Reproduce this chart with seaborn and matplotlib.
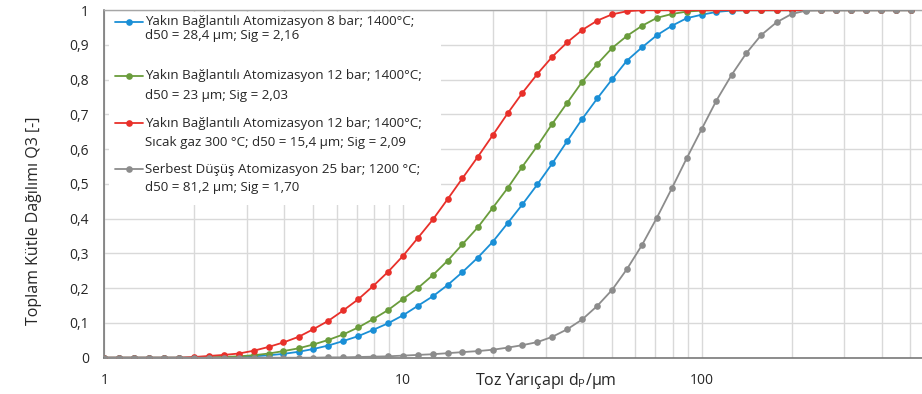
import matplotlib
matplotlib.use("Agg")
import matplotlib.pyplot as plt
import numpy as np
import pandas as pd
import seaborn as sns
from matplotlib.ticker import FixedLocator, FixedFormatter, NullFormatter
from matplotlib.lines import Line2D
from matplotlib.patches import Rectangle

# particle size grid (µm), 20 points per decade
sizes = [1, 1.12, 1.26, 1.41, 1.58, 1.78, 2.0, 2.24, 2.51, 2.82,
         3.16, 3.55, 3.98, 4.47, 5.01, 5.62, 6.31, 7.08, 7.94, 8.91,
         10, 11.2, 12.6, 14.1, 15.8, 17.8, 20.0, 22.4, 25.1, 28.2,
         31.6, 35.5, 39.8, 44.7, 50.1, 56.2, 63.1, 70.8, 79.4, 89.1,
         100, 112, 126, 141, 158, 178, 200, 224, 251, 282,
         316, 355, 398, 447, 501]

q3_8bar = [0, 0, 0, 0, 0, 0, 0, 0, 0.001, 0.002,
           0.004, 0.007, 0.011, 0.017, 0.025, 0.035, 0.048, 0.062, 0.080, 0.099,
           0.122, 0.149, 0.177, 0.209, 0.246, 0.288, 0.334, 0.387, 0.441, 0.499,
           0.559, 0.624, 0.687, 0.746, 0.801, 0.855, 0.893, 0.928, 0.955, 0.977,
           0.987, 0.995, 0.999, 1, 1, 1, 1, 1, 1, 1,
           1, 1, 1, 1, 1]

q3_12bar = [0, 0, 0, 0, 0, 0, 0, 0.001, 0.002, 0.004,
            0.007, 0.012, 0.019, 0.027, 0.038, 0.051, 0.067, 0.087, 0.111, 0.137,
            0.169, 0.200, 0.238, 0.279, 0.326, 0.375, 0.432, 0.488, 0.550, 0.610,
            0.673, 0.734, 0.794, 0.845, 0.891, 0.926, 0.955, 0.978, 0.989, 0.996,
            0.999, 1, 1, 1, 1, 1, 1, 1, 1, 1,
            1, 1, 1, 1, 1]

q3_12bar_hot = [0, 0, 0, 0, 0, 0, 0.002, 0.005, 0.008, 0.012,
                0.020, 0.031, 0.044, 0.060, 0.082, 0.106, 0.136, 0.168, 0.206, 0.247,
                0.293, 0.344, 0.398, 0.456, 0.516, 0.578, 0.641, 0.703, 0.762, 0.817,
                0.866, 0.908, 0.943, 0.970, 0.988, 0.997, 1, 1, 1, 1,
                1, 1, 1, 1, 1, 1, 1, 1, 1, 1,
                1, 1, 1, 1, 1]

q3_freefall = [0, 0, 0, 0, 0, 0, 0, 0, 0, 0,
               0, 0, 0, 0, 0, 0.001, 0.001, 0.002, 0.003, 0.004,
               0.006, 0.008, 0.010, 0.013, 0.016, 0.019, 0.023, 0.029, 0.036, 0.045,
               0.060, 0.082, 0.110, 0.149, 0.195, 0.255, 0.324, 0.403, 0.487, 0.574,
               0.658, 0.740, 0.814, 0.876, 0.928, 0.965, 0.989, 0.999, 1, 1,
               1, 1, 1, 1, 1]

series_keys = ["8bar", "12bar", "12bar_hot", "freefall"]
series_colors = ["#1a8fd6", "#6a9c3c", "#e8302a", "#8c8c8c"]
legend_texts = [
    ("Yakın Bağlantılı Atomizasyon 8 bar; 1400°C;", "d50 = 28,4 µm; Sig = 2,16"),
    ("Yakın Bağlantılı Atomizasyon 12 bar; 1400°C;", "d50 = 23 µm; Sig = 2,03"),
    ("Yakın Bağlantılı Atomizasyon 12 bar; 1400°C;", "Sıcak gaz 300 °C; d50 = 15,4 µm; Sig = 2,09"),
    ("Serbest Düşüş Atomizasyon 25 bar; 1200 °C;", "d50 = 81,2 µm; Sig = 1,70"),
]
x_tick_values = [1, 10, 100]
x_tick_labels = ["1", "10", "100"]
y_tick_values = [0, 0.1, 0.2, 0.3, 0.4, 0.5, 0.6, 0.7, 0.8, 0.9, 1.0]
y_tick_labels = ["0", "0,1", "0,2", "0,3", "0,4", "0,5", "0,6", "0,7", "0,8", "0,9", "1"]
x_label = "Toz Yarıçapı d$_{P}$/µm"
y_label = "Toplam Kütle Dağılımı Q3 [-]"

sns.set_style("white")
plt.rcParams["font.family"] = ["Open Sans", "DejaVu Sans"]
plt.rcParams["mathtext.default"] = "regular"

W, H = 922, 394
fig = plt.figure(figsize=(W / 100, H / 100), dpi=100)
x0, x1000 = 104.3, 1000.4
y0, y1 = 357.7, 10.2
ax = fig.add_axes([x0 / W, 1 - y0 / H, (x1000 - x0) / W, (y0 - y1) / H])
ax.set_xscale("log")

df = pd.DataFrame({
    "d": sizes * 4,
    "q3": q3_8bar + q3_12bar + q3_12bar_hot + q3_freefall,
    "series": sum([[k] * len(sizes) for k in series_keys], []),
})
sns.lineplot(data=df, x="d", y="q3", hue="series", hue_order=series_keys,
             palette=series_colors, marker="o", markersize=4.8,
             markeredgewidth=0, linewidth=1.3, legend=False, ax=ax,
             sort=False, zorder=3)

ax.set_xlim(1, 1000)
ax.set_ylim(0, 1)
ax.xaxis.set_major_locator(FixedLocator(x_tick_values))
ax.xaxis.set_major_formatter(FixedFormatter(x_tick_labels))
minor = [m * 10 ** e for e in range(0, 3) for m in range(2, 10)]
ax.xaxis.set_minor_locator(FixedLocator(minor))
ax.xaxis.set_minor_formatter(NullFormatter())
ax.yaxis.set_major_locator(FixedLocator(y_tick_values))
ax.yaxis.set_major_formatter(FixedFormatter(y_tick_labels))

ax.set_axisbelow(True)
ax.xaxis.grid(True, which="both", color="#d9d9d9", linewidth=1.0)
ax.yaxis.grid(True, which="major", color="#d9d9d9", linewidth=1.0)

for s in ["left", "bottom"]:
    ax.spines[s].set_color("#6e6e6e")
    ax.spines[s].set_linewidth(1.1)
ax.spines["top"].set_color("#a6a6a6")
ax.spines["top"].set_linewidth(1.0)
ax.spines["right"].set_visible(False)

ax.tick_params(axis="x", which="both", direction="out", length=3, width=0.8,
               color="#6e6e6e", labelsize=10, labelcolor="#262626", pad=8)
ax.tick_params(axis="y", which="major", direction="in", length=4, width=0.8,
               color="#6e6e6e", labelsize=10, labelcolor="#262626", pad=11)

ax.set_xlabel(x_label, fontsize=11.5, color="#262626")
ax.set_ylabel(y_label, fontsize=11.5, color="#262626")
ax.xaxis.set_label_coords((545.8 - x0) / (x1000 - x0), (y0 - 371) / (y0 - y1))
ax.yaxis.set_label_coords((41.7 - x0) / (x1000 - x0), (y0 - 220.8) / (y0 - y1))

# legend block (white background, handles aligned with first text line)
def ax_x(px):
    return (px - x0) / (x1000 - x0)

def ax_y(py):
    return (y0 - py) / (y0 - y1)

ax.add_patch(Rectangle((ax_x(109), ax_y(205)), ax_x(441) - ax_x(109), ax_y(11.5) - ax_y(205),
                       transform=ax.transAxes, facecolor="white", edgecolor="none", zorder=1))
line_y = [(22, 36), (76, 96), (123, 142.5), (169, 187)]
for (t1, t2), (py1, py2), col in zip(legend_texts, line_y, series_colors):
    ax.add_line(Line2D([ax_x(115), ax_x(143)], [ax_y(py1), ax_y(py1)], transform=ax.transAxes,
                       color=col, linewidth=1.3, zorder=4))
    ax.add_line(Line2D([ax_x(128.5)], [ax_y(py1)], transform=ax.transAxes, color=col,
                       marker="o", markersize=4.8, markeredgewidth=0, zorder=4))
    ax.text(ax_x(145), ax_y(py1), t1, transform=ax.transAxes, va="center", ha="left",
            fontsize=9.6, color="#262626", zorder=4)
    ax.text(ax_x(145), ax_y(py2), t2, transform=ax.transAxes, va="center", ha="left",
            fontsize=9.6, color="#262626", zorder=4)

fig.savefig("out.png", dpi=100)
